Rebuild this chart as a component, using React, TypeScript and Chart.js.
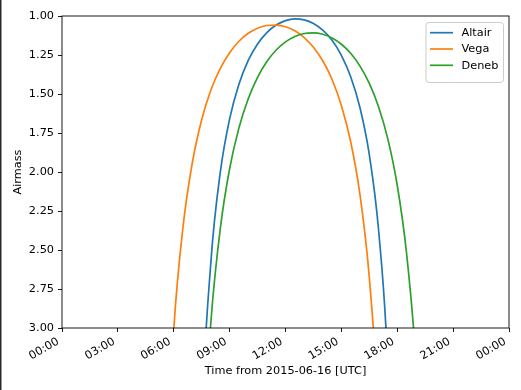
import React, { useEffect, useRef } from "react";
import { Chart, registerables } from "chart.js";

Chart.register(...registerables);

// Time (hours from 2015-06-16 00:00 UTC)
const hours = [
  5.0, 5.5, 6.0, 6.5, 7.0, 7.5, 8.0, 8.5, 9.0, 9.5, 10.0, 10.5, 11.0, 11.5, 12.0,
  12.5, 13.0, 13.5, 14.0, 14.5, 15.0, 15.5, 16.0, 16.5, 17.0, 17.5, 18.0, 18.5, 19.0, 19.5,
];

const altair = [
  null, null, null, null, 6.54, 3.663, 2.568, 2.001, 1.659, 1.437, 1.285, 1.179, 1.106, 1.058, 1.030,
  1.019, 1.025, 1.048, 1.091, 1.156, 1.252, 1.389, 1.588, 1.889, 2.375, 3.267, 5.35, null, null, null,
];

const vega = [
  7.13, 4.232, 3.011, 2.349, 1.939, 1.665, 1.473, 1.336, 1.235, 1.162, 1.111, 1.078, 1.061, 1.058, 1.069,
  1.095, 1.138, 1.200, 1.287, 1.407, 1.573, 1.806, 2.146, 2.676, 3.589, 5.48, null, null, null, null,
];

const deneb = [
  null, null, null, null, 6.04, 3.965, 2.952, 2.361, 1.979, 1.717, 1.530, 1.393, 1.292, 1.218, 1.166,
  1.131, 1.112, 1.108, 1.117, 1.141, 1.181, 1.239, 1.321, 1.432, 1.583, 1.791, 2.085, 2.521, 3.214, 4.456,
];

const seriesNames = ["Altair", "Vega", "Deneb"];
const seriesColors = ["#1f77b4", "#ff7f0e", "#2ca02c"];

const xTicks = [0, 3, 6, 9, 12, 15, 18, 21, 24];
const xTickLabels = ["00:00", "03:00", "06:00", "09:00", "12:00", "15:00", "18:00", "21:00", "00:00"];
const yTicks = [1.0, 1.25, 1.5, 1.75, 2.0, 2.25, 2.5, 2.75, 3.0];

const xTitle = "Time from 2015-06-16 [UTC]";
const yTitle = "Airmass";

const FAMILY = "'DejaVu Sans', sans-serif";
const FS = 11.3;

const overlayPlugin = {
  id: "mplOverlay",
  afterDraw(chart: any) {
    const ctx = chart.ctx as CanvasRenderingContext2D;
    const area = chart.chartArea;
    const xs = chart.scales.x;

    ctx.save();
    // left edge line of the picture
    ctx.fillStyle = "#2a2a2a";
    ctx.fillRect(0, 0, 1.5, chart.height);

    // axes frame
    ctx.strokeStyle = "#000";
    ctx.lineWidth = 0.9;
    ctx.strokeRect(area.left, area.top, area.right - area.left, area.bottom - area.top);

    // rotated x tick labels (matplotlib style: bbox top-right at tick)
    ctx.font = `${FS}px ${FAMILY}`;
    ctx.fillStyle = "#000";
    ctx.textAlign = "right";
    ctx.textBaseline = "top";
    const h = 13;
    const yTop = area.bottom + 4 + 4;
    xTicks.forEach((v, i) => {
      const px = xs.getPixelForValue(v);
      ctx.save();
      ctx.translate(px - 0.5 * h, yTop);
      ctx.rotate(-Math.PI / 6);
      ctx.fillText(xTickLabels[i], 0, 0);
      ctx.restore();
    });

    // legend
    const ds = chart.data.datasets;
    const bx = 426, by = 22.5, bw = 77.5, bh = 60;
    ctx.beginPath();
    const r = 3;
    ctx.moveTo(bx + r, by);
    ctx.lineTo(bx + bw - r, by);
    ctx.arcTo(bx + bw, by, bx + bw, by + r, r);
    ctx.lineTo(bx + bw, by + bh - r);
    ctx.arcTo(bx + bw, by + bh, bx + bw - r, by + bh, r);
    ctx.lineTo(bx + r, by + bh);
    ctx.arcTo(bx, by + bh, bx, by + bh - r, r);
    ctx.lineTo(bx, by + r);
    ctx.arcTo(bx, by, bx + r, by, r);
    ctx.closePath();
    ctx.fillStyle = "rgba(255,255,255,0.8)";
    ctx.fill();
    ctx.strokeStyle = "#cccccc";
    ctx.lineWidth = 1;
    ctx.stroke();

    ctx.textAlign = "left";
    ctx.textBaseline = "middle";
    ds.forEach((d: any, i: number) => {
      const cy = 32.7 + i * 16.3;
      ctx.strokeStyle = d.borderColor;
      ctx.lineWidth = 1.7;
      ctx.beginPath();
      ctx.moveTo(430, cy);
      ctx.lineTo(453, cy);
      ctx.stroke();
      ctx.fillStyle = "#000";
      ctx.fillText(d.label, 461.5, cy + 0.5);
    });
    ctx.restore();
  },
};

export default function App() {
  const ref = useRef<HTMLCanvasElement | null>(null);

  useEffect(() => {
    document.body.style.margin = "0";
    const canvas = ref.current;
    if (!canvas) return;
    const series = [altair, vega, deneb];
    const chart = new Chart(canvas, {
      type: "line",
      data: {
        datasets: series.map((vals, i) => ({
          label: seriesNames[i],
          data: hours.map((h, j) => ({ x: h, y: vals[j] })),
          borderColor: seriesColors[i],
          backgroundColor: seriesColors[i],
          borderWidth: 1.7,
          pointRadius: 0,
          cubicInterpolationMode: "monotone",
          fill: false,
          spanGaps: false,
          clip: 0,
          order: 3 - i,
        })),
      } as any,
      options: {
        responsive: false,
        animation: false,
        devicePixelRatio: 1,
        events: [],
        layout: { padding: { left: 0, right: 12, top: 16, bottom: 0 } },
        plugins: { legend: { display: false }, tooltip: { enabled: false } },
        scales: {
          x: {
            type: "linear",
            min: 0,
            max: 24,
            afterBuildTicks: (s: any) => {
              s.ticks = xTicks.map((v) => ({ value: v }));
            },
            ticks: { display: false },
            grid: {
              display: true,
              drawOnChartArea: false,
              drawTicks: true,
              tickLength: 4,
              color: "#000",
              lineWidth: 0.9,
            },
            border: { display: false },
            title: {
              display: true,
              text: xTitle,
              color: "#000",
              font: { family: FAMILY, size: FS },
              padding: { top: 0, bottom: 11.7 },
            },
            afterFit: (s: any) => {
              s.height = 62;
            },
          },
          y: {
            type: "linear",
            min: 1,
            max: 3,
            reverse: true,
            afterBuildTicks: (s: any) => {
              s.ticks = yTicks.map((v) => ({ value: v }));
            },
            ticks: {
              callback: (v: any) => Number(v).toFixed(2),
              color: "#000",
              font: { family: FAMILY, size: FS },
              padding: 4,
            },
            grid: {
              display: true,
              drawOnChartArea: false,
              drawTicks: true,
              tickLength: 4,
              color: "#000",
              lineWidth: 0.9,
            },
            border: { display: false },
            title: {
              display: true,
              text: yTitle,
              color: "#000",
              font: { family: FAMILY, size: FS },
              padding: { top: 10.8, bottom: 0 },
            },
            afterFit: (s: any) => {
              s.width = 62;
            },
          },
        },
      } as any,
      plugins: [overlayPlugin],
    });
    return () => chart.destroy();
  }, []);

  return (
    <div style={{ width: 521, height: 390, background: "#fff" }}>
      <canvas ref={ref} width={521} height={390} style={{ display: "block" }} />
    </div>
  );
}
